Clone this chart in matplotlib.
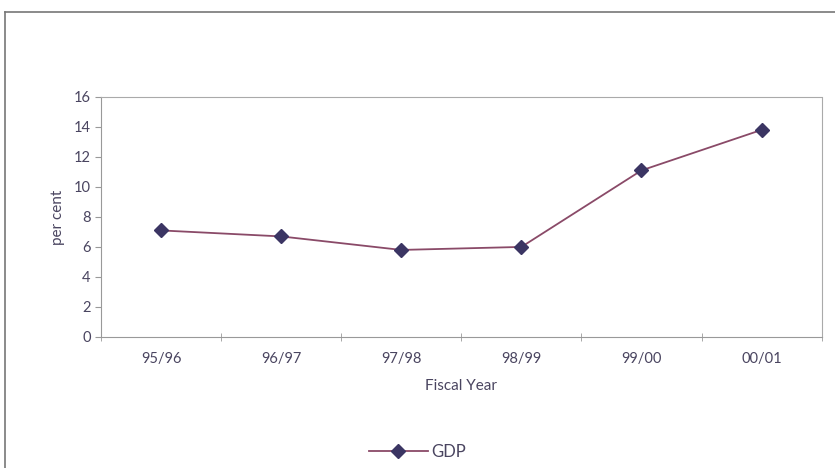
import matplotlib
matplotlib.use('Agg')
import matplotlib.pyplot as plt
from matplotlib.lines import Line2D

years = ['95/96', '96/97', '97/98', '98/99', '99/00', '00/01']
gdp = [7.1, 6.7, 5.8, 6.0, 11.1, 13.8]
yticks = [0, 2, 4, 6, 8, 10, 12, 14, 16]

txt = '#4a4560'
plt.rcParams['font.family'] = ['Lato', 'DejaVu Sans']

fig = plt.figure(figsize=(8.35, 4.68), dpi=100)
ax = fig.add_axes([0.121, 0.280, 0.863, 0.513])

x = range(len(years))
ax.plot(x, gdp, color='#8a4a68', lw=1.3, marker='D', ms=7,
        mfc='#3b3563', mec='#3b3563', label='GDP')

ax.set_xlim(-0.5, len(years) - 0.5)
ax.set_ylim(0, 16)
ax.set_yticks(yticks)
ax.set_xticks(x)
ax.set_xticklabels(years)
ax.set_xticks([i - 0.5 for i in range(len(years) + 1)], minor=True)
ax.tick_params(axis='x', which='major', length=0, pad=11, labelsize=10.5, labelcolor=txt)
ax.tick_params(axis='x', which='minor', length=6, direction='inout', color='#999999')
ax.tick_params(axis='y', length=4, direction='out', color='#999999', labelsize=10.5, labelcolor=txt)

for s in ['left', 'bottom']:
    ax.spines[s].set_color('#999999')
for s in ['top', 'right']:
    ax.spines[s].set_color('#aaaaaa')
    ax.spines[s].set_linestyle((0, (1, 1)))

ax.set_ylabel('per cent', fontsize=11, color=txt, labelpad=6)
ax.set_xlabel('Fiscal Year', fontsize=11, color=txt, labelpad=9)

ax.legend(loc='center', bbox_to_anchor=(0.5, 0.035), bbox_transform=fig.transFigure,
          frameon=False, fontsize=12, labelcolor=txt, handlelength=3.5, handletextpad=0.2)

# outer chart frame
fig.add_artist(Line2D([0.006, 0.006], [0, 0.974], color='#777777', lw=1.2))
fig.add_artist(Line2D([0.006, 1.0], [0.974, 0.974], color='#777777', lw=1.2))

fig.savefig('out.png', dpi=100)
